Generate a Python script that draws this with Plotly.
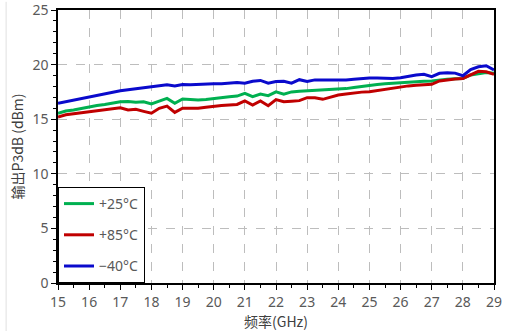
import plotly.graph_objects as go

# Frequency sweep (GHz)
freq = [15.0, 15.25, 15.5, 15.75, 16.0, 16.25, 16.5, 16.75, 17.0, 17.25, 17.5, 17.75,
        18.0, 18.25, 18.5, 18.75, 19.0, 19.25, 19.5, 19.75, 20.0, 20.25, 20.5, 20.75,
        21.0, 21.25, 21.5, 21.75, 22.0, 22.25, 22.5, 22.75, 23.0, 23.25, 23.5, 23.75,
        24.0, 24.25, 24.5, 24.75, 25.0, 25.25, 25.5, 25.75, 26.0, 26.25, 26.5, 26.75,
        27.0, 27.25, 27.5, 27.75, 28.0, 28.25, 28.5, 28.75, 29.0]

# Output P3dB (dBm) at each temperature
p3db_25 = [15.55, 15.75, 15.85, 16.0, 16.15, 16.25, 16.35, 16.48, 16.6, 16.62, 16.55, 16.6,
           16.4, 16.65, 16.9, 16.45, 16.85, 16.8, 16.75, 16.8, 16.9, 16.95, 17.05, 17.12,
           17.36, 17.06, 17.3, 17.15, 17.5, 17.3, 17.5, 17.55, 17.6, 17.65, 17.68, 17.7,
           17.73, 17.8, 17.9, 18.0, 18.12, 18.18, 18.25, 18.3, 18.37, 18.4, 18.45, 18.48,
           18.5, 18.6, 18.65, 18.7, 18.73, 19.05, 19.2, 19.28, 19.2]

p3db_85 = [15.2, 15.4, 15.5, 15.6, 15.7, 15.78, 15.9, 15.95, 16.05, 15.85, 15.9, 15.72,
           15.55, 16.0, 16.2, 15.62, 16.0, 16.0, 16.0, 16.1, 16.2, 16.25, 16.3, 16.35,
           16.67, 16.3, 16.67, 16.24, 16.8, 16.6, 16.65, 16.7, 16.97, 16.97, 16.82, 17.0,
           17.21, 17.3, 17.4, 17.48, 17.52, 17.62, 17.75, 17.85, 17.97, 18.05, 18.1, 18.15,
           18.2, 18.5, 18.6, 18.68, 18.73, 19.05, 19.38, 19.35, 19.12]

p3db_m40 = [16.45, 16.6, 16.75, 16.88, 17.0, 17.15, 17.3, 17.45, 17.6, 17.7, 17.8, 17.9,
            18.0, 18.05, 18.15, 18.05, 18.18, 18.15, 18.2, 18.22, 18.25, 18.25, 18.3, 18.35,
            18.3, 18.48, 18.55, 18.3, 18.45, 18.48, 18.3, 18.62, 18.45, 18.6, 18.6, 18.58,
            18.57, 18.6, 18.65, 18.72, 18.78, 18.78, 18.78, 18.72, 18.8, 18.95, 19.05, 19.12,
            18.9, 19.2, 19.25, 19.22, 18.98, 19.55, 19.8, 19.9, 19.5]

series = [
    ("+25°C", p3db_25, "#00B050"),
    ("+85°C", p3db_85, "#C00000"),
    ("−40°C", p3db_m40, "#0A0ACC"),
]

fig = go.Figure()
for name, vals, color in series:
    fig.add_trace(go.Scatter(
        x=freq, y=vals, name=name, mode="lines",
        line=dict(color=color, width=3),
        legendgroup=name,
    ))

tick_font = dict(family="Noto Sans, DejaVu Sans, sans-serif", size=14, color="#595959")
title_font = dict(family="Noto Sans CJK SC, sans-serif", size=14, color="#404040")

fig.update_layout(
    width=508, height=331,
    margin=dict(l=58, r=14, t=10, b=48),
    paper_bgcolor="white", plot_bgcolor="white",
    showlegend=True,
    legend=dict(
        x=0, y=0, xanchor="left", yanchor="bottom",
        bgcolor="white", bordercolor="black", borderwidth=1,
        font=dict(family="Noto Sans, DejaVu Sans, sans-serif", size=14, color="#595959"),
        tracegroupgap=10, itemwidth=30,
    ),
    xaxis=dict(
        range=[15, 29], dtick=1, tick0=15, automargin=False,
        showline=True, linecolor="black", linewidth=1.5, mirror=True,
        ticks="outside", ticklen=5, tickcolor="black",
        minor=dict(dtick=0.5, ticks="outside", ticklen=3, tickcolor="black", showgrid=False),
        showgrid=True, gridcolor="#BDBDBD", griddash="dash", gridwidth=1,
        zeroline=False, tickfont=tick_font, ticklabeloverflow="allow",
        title=dict(text="频率(GHz)", font=title_font, standoff=8),
    ),
    yaxis=dict(
        range=[0, 25], dtick=5, tick0=0, automargin=False,
        showline=True, linecolor="black", linewidth=1.5, mirror=True,
        ticks="outside", ticklen=5, tickcolor="black",
        minor=dict(dtick=1, ticks="outside", ticklen=3, tickcolor="black", showgrid=False),
        showgrid=True, gridcolor="#BDBDBD", griddash="dash", gridwidth=1,
        zeroline=False, tickfont=tick_font, ticklabeloverflow="allow",
        title=dict(text="输出P3dB (dBm)", font=title_font, standoff=6),
    ),
    shapes=[dict(type="line", xref="paper", yref="paper",
                 x0=-0.119, x1=-0.119, y0=-0.18, y1=1.03,
                 line=dict(color="#E0E0E0", width=1))],
)

fig.write_html("out.html")
